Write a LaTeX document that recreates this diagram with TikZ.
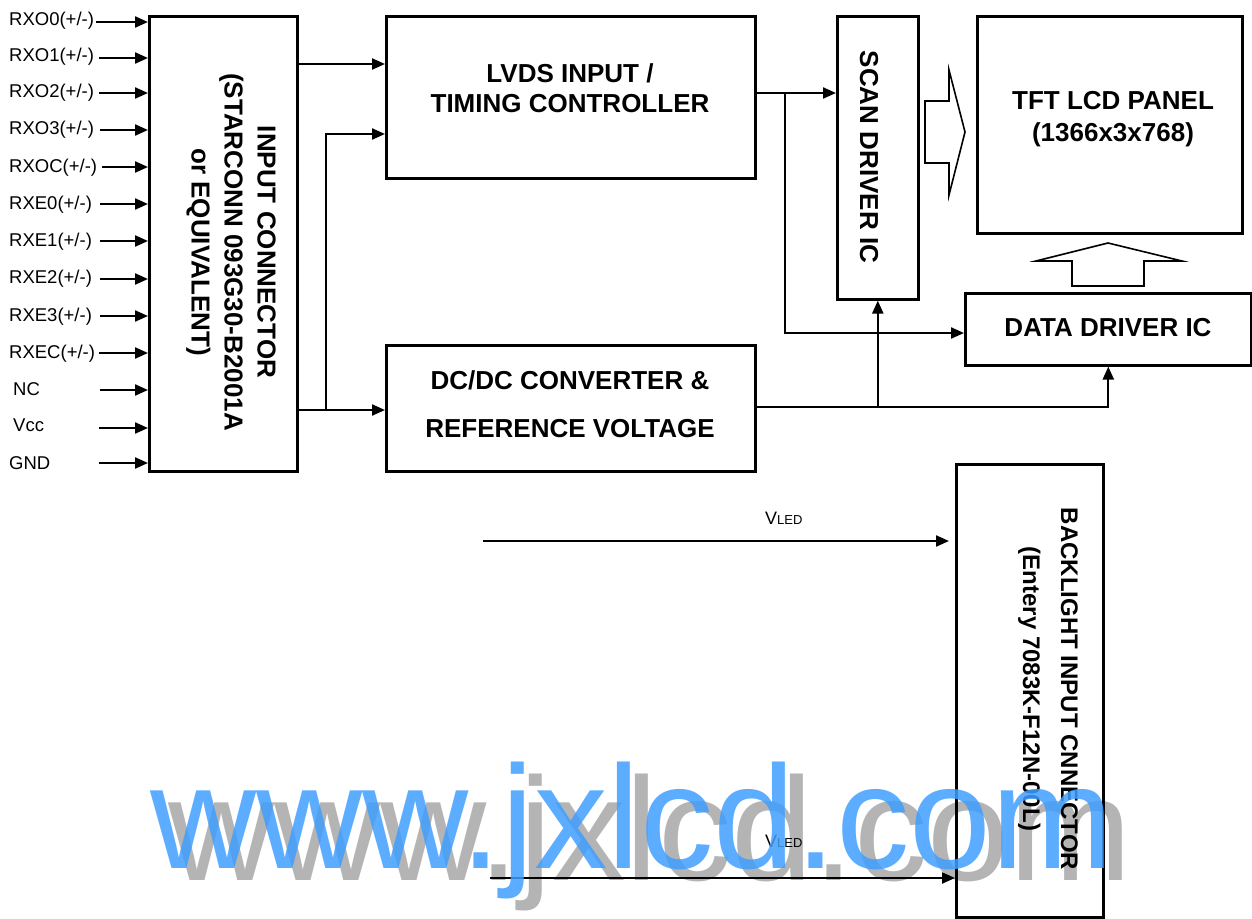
\documentclass[tikz,border=0pt]{standalone}
\usepackage{fontspec}
\setmainfont{Liberation Sans}
\usetikzlibrary{arrows.meta}
\definecolor{wmblue}{RGB}{64,158,255}
\definecolor{wmgray}{RGB}{180,180,180}
\begin{document}
\begin{tikzpicture}[x=1pt,y=-1pt,
  box/.style={draw, line width=2.6pt, rectangle, inner sep=0pt, anchor=north west},
  btxt/.style={font=\fontsize{26}{30}\selectfont\bfseries, align=center, inner sep=0pt},
  lbl/.style={font=\fontsize{18.5}{20}\selectfont, anchor=base west, inner sep=0pt},
  arr/.style={line width=2.2pt, -{Triangle[length=13pt,width=11pt]}},
  ln/.style={line width=2.2pt},
  hollow/.style={draw, line width=1.6pt, line join=miter},
  wm/.style={anchor=base west, inner sep=0pt, font=\fontsize{147}{147}\selectfont},
]
\useasboundingbox (0,0) rectangle (1252,918);

% watermark shadow
\node[wm, text=wmgray] (wmg) at (168,880) {www.jxlcd.com};

% boxes
\node[box, minimum width=148pt, minimum height=455pt] (conn) at (148,15) {};
\node[box, minimum width=369pt, minimum height=162pt] (lvds) at (385,15) {};
\node[box, minimum width=369pt, minimum height=126pt] (dcdc) at (385,344) {};
\node[box, minimum width=81pt, minimum height=283pt] (scan) at (836,15) {};
\node[box, minimum width=265pt, minimum height=217pt] (panel) at (976,15) {};
\node[box, minimum width=286pt, minimum height=72pt] (data) at (964,292) {};
\node[box, minimum width=147pt, minimum height=453pt] (bl) at (955,463) {};

% box texts
\node[btxt] (lvdsT) at (570,88) {LVDS INPUT /\\TIMING CONTROLLER};
\node[btxt, font=\fontsize{26}{48}\selectfont\bfseries] (dcdcT) at (570,404) {DC/DC CONVERTER \&\\REFERENCE VOLTAGE};
\node[btxt, font=\fontsize{26}{33}\selectfont\bfseries, rotate=-90] (connT) at (231,252) {INPUT CONNECTOR\\(STARCONN 093G30-B2001A\\or EQUIVALENT)};
\node[btxt, rotate=-90] (scanT) at (869,157) {SCAN DRIVER IC};
\node[btxt, font=\fontsize{26}{32}\selectfont\bfseries] (panelT) at (1113,119) {TFT LCD PANEL\\(1366x3x768)};
\node[btxt] (dataT) at (1108,328) {DATA DRIVER IC};
\node[btxt, font=\fontsize{24}{38}\selectfont\bfseries, rotate=-90] (blT) at (1048,689) {BACKLIGHT INPUT CNNECTOR\\(Entery 7083K-F12N-00L)};

% input labels and arrows
\node[lbl] (l1) at (9,25.1) {RXO0(+/-)};
\node[lbl] (l2) at (9,61.1) {RXO1(+/-)};
\node[lbl] (l3) at (9,97.6) {RXO2(+/-)};
\node[lbl] (l4) at (9,134.6) {RXO3(+/-)};
\node[lbl] (l5) at (9,172.1) {RXOC(+/-)};
\node[lbl] (l6) at (9,209.1) {RXE0(+/-)};
\node[lbl] (l7) at (9,246.1) {RXE1(+/-)};
\node[lbl] (l8) at (9,283.1) {RXE2(+/-)};
\node[lbl] (l9) at (9,321.6) {RXE3(+/-)};
\node[lbl] (l10) at (9,358.6) {RXEC(+/-)};
\node[lbl] (l11) at (13,395.6) {NC};
\node[lbl] (l12) at (13,431.6) {Vcc};
\node[lbl] (l13) at (9,469.6) {GND};

\coordinate (s1) at (96,22);
\coordinate (s2) at (99,58);
\coordinate (s3) at (99,93);
\coordinate (s4) at (100,130);
\coordinate (s5) at (102,167);
\coordinate (s6) at (100,204);
\coordinate (s7) at (100,241);
\coordinate (s8) at (100,279);
\coordinate (s9) at (100,316);
\coordinate (s10) at (99,353);
\coordinate (s11) at (100,390);
\coordinate (s12) at (99,428);
\coordinate (s13) at (99,463);
\foreach \i in {1,...,13} {\draw[arr] (s\i) -- (s\i -| conn.west);}

% connectors
\coordinate (y64) at (0,64);
\coordinate (y93) at (0,93);
\coordinate (y134) at (0,134);
\coordinate (y333) at (0,333);
\coordinate (y407) at (0,407);
\coordinate (b1) at (326,410);
\coordinate (b3) at (785,93);

\draw[arr] (conn.east |- y64) -- (lvds.west |- y64);
\draw[arr] (conn.east |- b1) -- (dcdc.west |- b1);
\draw[arr] (b1) |- (lvds.west |- y134);
\draw[arr] (lvds.east |- y93) -- (scan.west |- y93);
\draw[arr] (b3) |- (data.west |- y333);
\draw[arr] (dcdc.east |- y407) -| (data.south);
\draw[arr] (scan.south |- y407) -- (scan.south);

% hollow arrows
\draw[hollow] (925,101) -- (949,101) -- (949,70) -- (965,132) -- (949,195) -- (949,163) -- (925,163) -- cycle;
\draw[hollow] (1072,286) -- (1072,261) -- (1036,261) -- (1108,243) -- (1182,261) -- (1144,261) -- (1144,286) -- cycle;

% VLED
\coordinate (v1) at (483,541);
\coordinate (v2) at (490,878);
\draw[arr, shorten >=6pt] (v1) -- (v1 -| bl.west);
\draw[arr] (v2) -- (v2 -| bl.west);
\node[anchor=base west, inner sep=0pt] (v1L) at (765,524.5) {\fontsize{18}{20}\selectfont V\fontsize{13}{15}\selectfont LED};
\node[anchor=base west, inner sep=0pt] (v2L) at (765,847.5) {\fontsize{18}{20}\selectfont V\fontsize{13}{15}\selectfont LED};

% watermark
\node[wm, text=wmblue, text opacity=0.85] (wmb) at (150,868) {www.jxlcd.com};
\end{tikzpicture}
\end{document}
